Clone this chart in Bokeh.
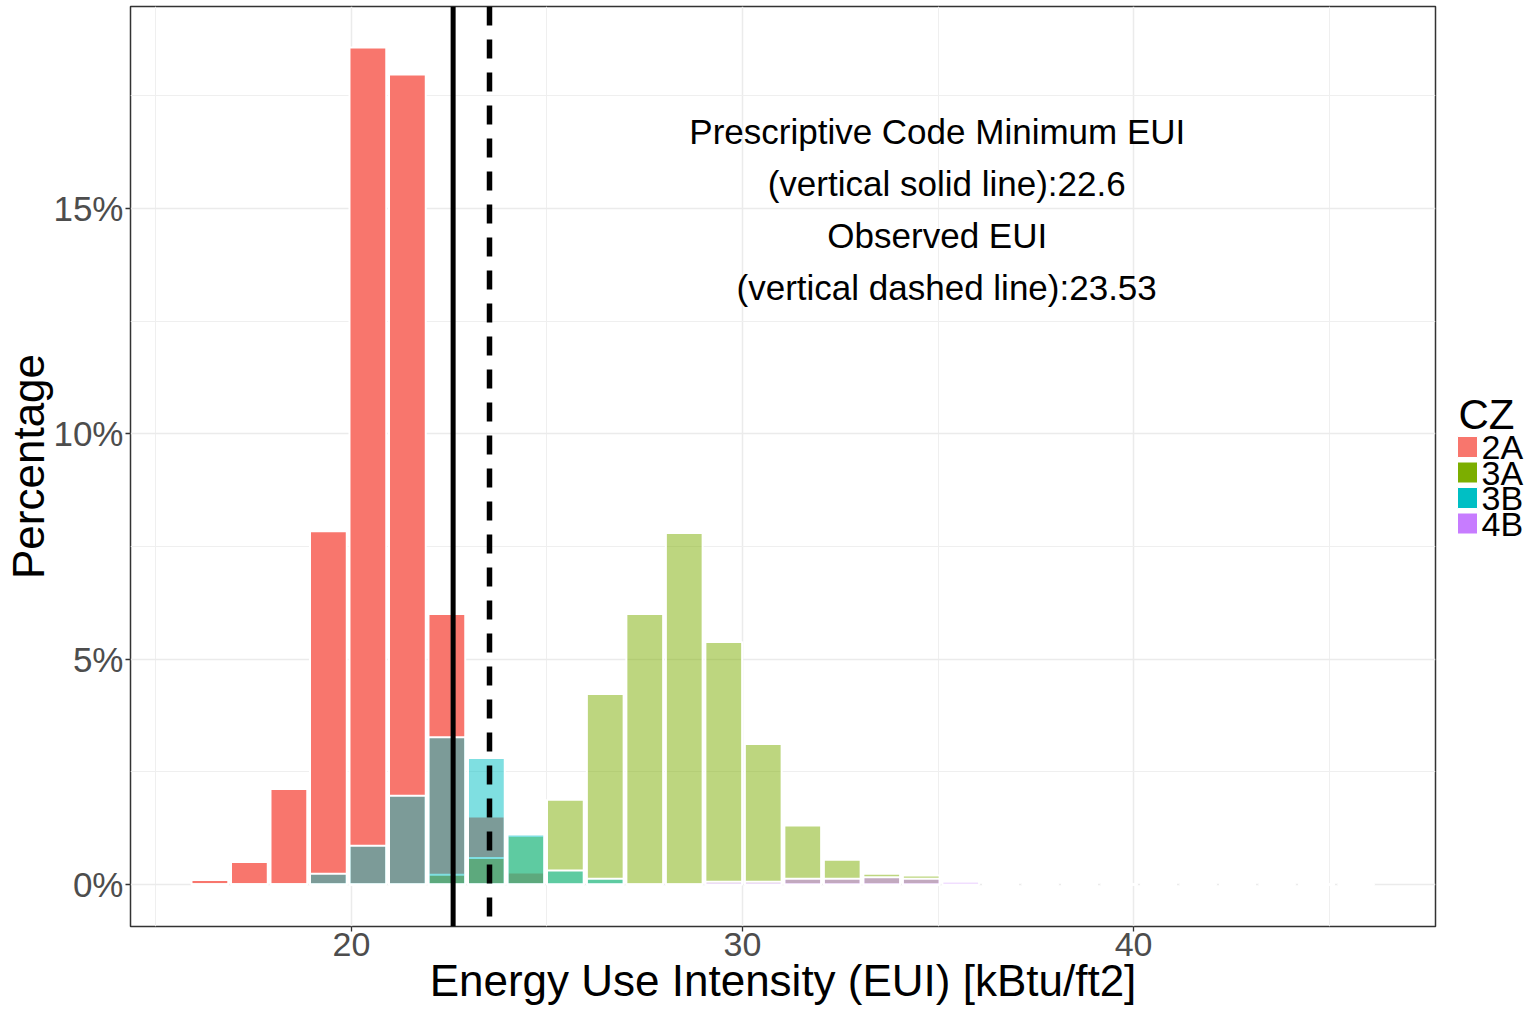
from bokeh.plotting import figure
from bokeh.models import Range1d, FixedTicker, PrintfTickFormatter, Span
from bokeh.layouts import row
from bokeh.core.properties import value
from bokeh.embed import file_html
from bokeh.resources import INLINE

# ---------------- data ----------------
bin_centers = [16.38, 17.39, 18.40, 19.41, 20.42, 21.43, 22.44, 23.45, 24.46, 25.47,
               26.49, 27.50, 28.51, 29.52, 30.53, 31.54, 32.55, 33.56, 34.57, 35.58,
               36.60, 37.61, 38.62, 39.63, 40.64, 41.65, 42.66, 43.67, 44.68, 45.69]
bin_width = 1.011

pct_2A = [0.10, 0.50, 2.12, 7.84, 18.57, 17.97, 6.00, 1.51, 0.27, 0.00,
          0.00, 0.00, 0.00, 0.00, 0.00, 0.00, 0.00, 0.00, 0.00, 0.00,
          0.00, 0.00, 0.00, 0.00, 0.00, 0.00, 0.00, 0.00, 0.00, 0.00]
pct_3A = [0.00, 0.00, 0.00, 0.00, 0.00, 0.00, 0.22, 0.59, 1.08, 1.88,
          4.23, 6.00, 7.80, 5.38, 3.12, 1.31, 0.55, 0.24, 0.20, 0.00,
          0.00, 0.00, 0.00, 0.00, 0.00, 0.00, 0.00, 0.00, 0.00, 0.00]
pct_3B = [0.00, 0.00, 0.00, 0.24, 0.86, 1.97, 3.27, 2.81, 1.11, 0.31,
          0.13, 0.00, 0.00, 0.00, 0.00, 0.00, 0.00, 0.00, 0.00, 0.00,
          0.00, 0.00, 0.00, 0.00, 0.00, 0.00, 0.00, 0.00, 0.00, 0.00]
pct_4B = [0.00, 0.00, 0.00, 0.00, 0.00, 0.00, 0.00, 0.00, 0.00, 0.00,
          0.00, 0.00, 0.00, 0.06, 0.06, 0.13, 0.13, 0.16, 0.13, 0.06,
          0.00, 0.00, 0.00, 0.00, 0.00, 0.00, 0.00, 0.00, 0.00, 0.00]

cz_labels = ["2A", "3A", "3B", "4B"]
cz_series = [pct_2A, pct_3A, pct_3B, pct_4B]
cz_colors = ["#F8766D", "#7CAE00", "#00BFC4", "#C77CFF"]
cz_alphas = [1.0, 0.5, 0.5, 0.5]

code_min_eui = 22.6
observed_eui = 23.53
note_lines = ["Prescriptive Code Minimum EUI",
              "(vertical solid line):22.6",
              "Observed EUI",
              "(vertical dashed line):23.53"]

x_ticks = [20, 30, 40]
x_minor = [15, 25, 35, 45]
y_ticks = [0, 5, 10, 15]
y_minor = [2.5, 7.5, 12.5, 17.5]

FONT = "Liberation Sans"
H = 1008
FRAME_TOP = 6
FRAME_BOTTOM = 926
W_MAIN = 1437
W_LEG = 87

# ---------------- main plot ----------------
p = figure(width=W_MAIN, height=H, output_backend="svg", toolbar_location=None,
           x_range=Range1d(14.35, 47.72), y_range=Range1d(-0.93, 19.48),
           min_border_left=130, min_border_right=2, min_border_top=FRAME_TOP,
           min_border_bottom=H - FRAME_BOTTOM)
p.background_fill_color = "white"
p.border_fill_color = "white"
p.outline_line_color = "#333333"
p.outline_line_width = 1.5

for vals, col, a in zip(cz_series, cz_colors, cz_alphas):
    p.vbar(x=bin_centers, top=vals, bottom=0, width=bin_width * 0.93,
           fill_color=col, fill_alpha=a, line_color="white", line_width=2)

p.add_layout(Span(location=code_min_eui, dimension="height", line_color="black", line_width=5))
p.add_layout(Span(location=observed_eui, dimension="height", line_color="black", line_width=5.5,
                  line_dash="19 14"))

note_x = 34.98
note_shift = [0.0, 0.24, 0.0, 0.24]
note_y0, note_dy = 16.71, 1.153
p.text(x=[note_x + s for s in note_shift],
       y=[note_y0 - i * note_dy for i in range(len(note_lines))],
       text=note_lines, text_font=value(FONT), text_font_size="35px",
       text_align="center", text_baseline="middle", text_color="black")

# axes
p.xaxis.ticker = FixedTicker(ticks=x_ticks, minor_ticks=x_minor)
p.yaxis.ticker = FixedTicker(ticks=y_ticks, minor_ticks=y_minor)
p.yaxis.formatter = PrintfTickFormatter(format="%d%%")
p.xaxis.axis_label = "Energy Use Intensity (EUI) [kBtu/ft2]"
p.yaxis.axis_label = "Percentage"
for ax in (p.xaxis, p.yaxis):
    ax.axis_line_color = None
    ax.major_tick_line_color = "#333333"
    ax.major_tick_line_width = 1.3
    ax.major_tick_out = 5
    ax.major_tick_in = 0
    ax.minor_tick_line_color = None
    ax.major_label_text_font = FONT
    ax.major_label_text_color = "#4D4D4D"
    ax.axis_label_text_font = FONT
    ax.axis_label_text_font_size = "44px"
    ax.axis_label_text_font_style = "normal"
    ax.axis_label_text_color = "black"
p.xaxis.major_label_text_font_size = "34px"
p.yaxis.major_label_text_font_size = "35px"
p.xaxis.major_label_standoff = 1
p.xaxis.axis_label_standoff = -3
p.yaxis.major_label_standoff = 2
p.yaxis.axis_label_standoff = -3

p.xgrid.grid_line_color = "#EBEBEB"
p.ygrid.grid_line_color = "#EBEBEB"
p.xgrid.grid_line_width = 1.5
p.ygrid.grid_line_width = 1.5
p.xgrid.minor_grid_line_color = "#EFEFEF"
p.ygrid.minor_grid_line_color = "#EFEFEF"
p.xgrid.minor_grid_line_width = 1
p.ygrid.minor_grid_line_width = 1

# ---------------- legend (separate panel, frame aligned with main frame) ----------------
leg = figure(width=W_LEG, height=H, output_backend="svg", toolbar_location=None,
             x_range=Range1d(0, W_LEG), y_range=Range1d(FRAME_BOTTOM, FRAME_TOP),
             x_axis_type=None, y_axis_type=None, min_border=0,
             min_border_top=FRAME_TOP, min_border_bottom=H - FRAME_BOTTOM)
leg.outline_line_color = None
leg.grid.visible = False
leg.background_fill_color = "white"
leg.border_fill_color = "white"

title_y = 413.7
key_y0 = 446.5
key_pitch = 25.5
key_y = [key_y0 + i * key_pitch for i in range(len(cz_labels))]
leg.text(x=[21], y=[title_y], text=["CZ"], text_font=value(FONT), text_font_size="42px",
         text_align="left", text_baseline="middle", text_color="black")
leg.rect(x=[30] * len(cz_labels), y=key_y, width=20, height=21,
         fill_color=cz_colors, line_color="white", line_width=1)
leg.text(x=[44] * len(cz_labels), y=key_y, text=cz_labels, text_font=value(FONT),
         text_font_size="34px", text_align="left", text_baseline="middle", text_color="black")

layout = row(p, leg)
open("out.html", "w").write(file_html(layout, INLINE))
